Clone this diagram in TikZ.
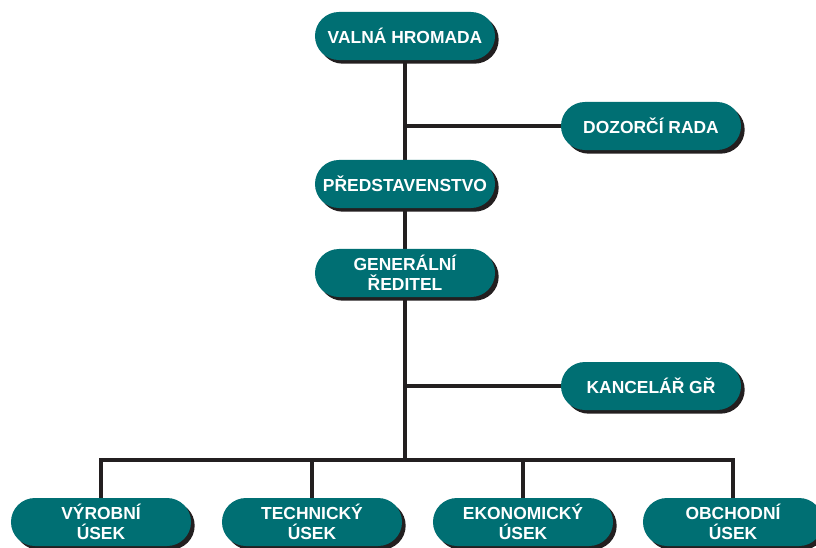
\documentclass[tikz,border=0pt]{standalone}
\usepackage{fontspec}
\setmainfont{Liberation Sans}
\usetikzlibrary{shadows,backgrounds,calc}
\definecolor{orgteal}{HTML}{006F73}
\definecolor{orgblack}{HTML}{231F20}

\begin{document}
\begin{tikzpicture}[
  x=0.025cm, y=-0.025cm,
  every node/.style={font=\bfseries\fontsize{12.4}{14.2}\selectfont},
  box/.style={rectangle, fill=orgteal, text=white, rounded corners=0.6cm,
    minimum width=4.5cm, minimum height=1.2cm, align=center, inner sep=2pt,
    drop shadow={shadow xshift=2.6pt, shadow yshift=-2.6pt, fill=orgblack, opacity=1}},
  link/.style={draw=orgblack, line width=2.2pt},
]
\clip (0,0) rectangle (816,547);

\node[box] (valna) at (405, 36) {VALNÁ HROMADA};
\node[box] (dozorci) at (651, 126) {DOZORČÍ RADA};
\node[box] (predst) at (405, 184) {PŘEDSTAVENSTVO};
\node[box] (general) at (405, 273) {GENERÁLNÍ\\ŘEDITEL};
\node[box] (kancelar) at (651, 386) {KANCELÁŘ GŘ};

\node[box] (vyrobni) at (101, 522) {VÝROBNÍ\\ÚSEK};
\node[box] (technicky) at (312, 522) {TECHNICKÝ\\ÚSEK};
\node[box] (ekonomicky) at (523, 522) {EKONOMICKÝ\\ÚSEK};
\node[box] (obchodni) at (733, 522) {OBCHODNÍ\\ÚSEK};

\coordinate (bus) at (405, 460);

\begin{scope}[on background layer]
\draw[link] (valna) -- (predst);
\draw[link] (predst) -- (general);
\draw[link] (general) -- (bus);
\draw[link] (dozorci.west) -- (dozorci.west -| valna);
\draw[link] (kancelar.west) -- (kancelar.west -| general);
\foreach \usek in {vyrobni, technicky, ekonomicky, obchodni}
  \draw[link] (bus) -| (\usek.north);
\end{scope}

\end{tikzpicture}
\end{document}
